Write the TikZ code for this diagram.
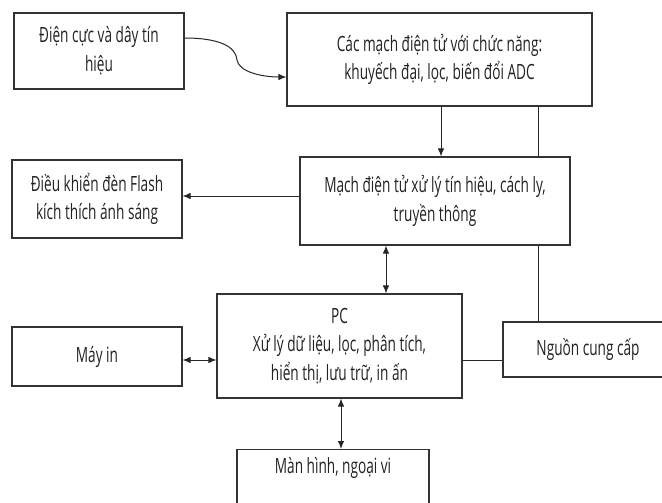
\documentclass[tikz,border=0pt]{standalone}
\usepackage{fontspec}
\setmainfont{Open Sans}[FakeStretch=0.65]
\usetikzlibrary{arrows.meta}
\definecolor{ink}{HTML}{222222}
\definecolor{edge}{HTML}{333333}
\tikzset{
  box/.style={draw=edge, line width=1.1pt, fill=white, rectangle, inner sep=0pt,
    align=center, text=ink, font=\fontsize{21}{28.5}\selectfont},
  lbl/.style={inner sep=0pt, align=center, text=ink, font=\fontsize{21}{28.5}\selectfont},
  conn/.style={draw=black!85, line width=1pt},
  arr/.style={conn, -{Latex[length=8pt,width=6.5pt]}},
  darr/.style={conn, {Latex[length=8pt,width=6.5pt]}-{Latex[length=8pt,width=6.5pt]}},
}
\begin{document}
\begin{tikzpicture}[x=1pt,y=-1pt]
\useasboundingbox (0,0) rectangle (662,503);
\clip (0,0) rectangle (662,503);
\fill[white] (0,0) rectangle (662,503);
% nodes
\node[box, minimum width=170pt, minimum height=76pt] (b1) at (99,51) {Điện cực và dây tín\\hiệu};
\node[box, minimum width=305pt, minimum height=93pt] (b2) at (439.5,59.5) {Các mạch điện tử với chức năng:\\khuyếch đại, lọc, biến đổi ADC};
\node[box, minimum width=270pt, minimum height=88pt] (b3) at (435,201) {Mạch điện tử xử lý tín hiệu, cách ly,\\truyền thông};
\node[box, minimum width=170pt, minimum height=78pt] (b4) at (97,199) {Điều khiển đèn Flash\\kích thích ánh sáng};
\node[box, minimum width=245pt, minimum height=104pt] (pc) at (339.5,346) {PC\\Xử lý dữ liệu, lọc, phân tích,\\hiển thị, lưu trữ, in ấn};
\node[box, minimum width=170pt, minimum height=59pt] (mi) at (97,356.5) {Máy in};
\node[box, minimum width=170pt, minimum height=55pt] (ng) at (588,349.5) {Nguồn cung cấp};
\node[box, minimum width=192pt, minimum height=80pt, anchor=north] (mh) at (333,449) {};
\node[lbl] (mhtext) at (333,468) {Màn hình, ngoại vi};
% helper coordinates
\coordinate (lx) at (538,0);
\coordinate (ax1) at (386,0);
\coordinate (ax2) at (341,0);
\coordinate (ly) at (0,360);
\coordinate (fy) at (0,196);
\coordinate (bend) at (237,60);
% connectors
\draw[arr] (b1.east |- 0,38) .. controls (218,38) and (236,46) .. (bend)
  .. controls (239,72) and (262,77) .. (b2.west |- 0,77);
\draw[arr] (b2.south -| 441,0) -- (b3.north -| 441,0);
\draw[conn] (b2.south -| lx) -- (b3.north -| lx);
\draw[conn] (b3.south -| lx) -- (ng.north -| lx);
\draw[arr] (b3.west |- fy) -- (b4.east |- fy);
\draw[darr] (b3.south -| ax1) -- (pc.north -| ax1);
\draw[darr] (mi.east |- ly) -- (pc.west |- ly);
\draw[conn] (pc.east |- ly) -- (ng.west |- ly);
\draw[darr] (pc.south -| ax2) -- (mh.north -| ax2);
\end{tikzpicture}
\end{document}
